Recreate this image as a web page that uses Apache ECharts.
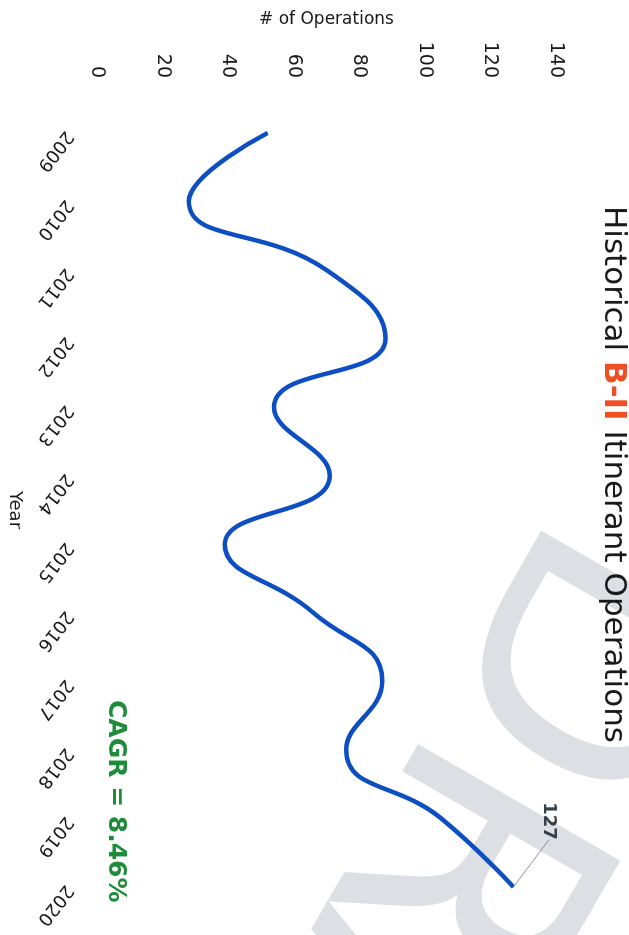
<!DOCTYPE html>
<html>
<head>
<meta charset="utf-8">
<script src="https://cdn.jsdelivr.net/npm/echarts@6/dist/echarts.min.js"></script>
<style>
  html, body { margin: 0; padding: 0; background: #fff; overflow: hidden; }
  body { width: 629px; height: 935px; position: relative; }
  /* chart is drawn landscape, then turned a quarter clockwise like the scan */
  #chart {
    position: absolute; left: 0; top: 0;
    width: 935px; height: 629px;
    transform-origin: 0 0;
    transform: translate(629px, 0) rotate(90deg);
  }
</style>
</head>
<body>
<div id="chart"></div>
<script>
const years = ['2009', '2010', '2011', '2012', '2013', '2014', '2015', '2016', '2017', '2018', '2019', '2020']
const operations = [52, 28, 70, 88, 54, 71, 39, 66, 87, 76, 105, 127]
const valueTicks = { min: 0, max: 140, interval: 20 }
const cagrText = 'CAGR = 8.46%'
const watermark = 'DRAFT'

const font = 'DejaVu Sans'
const chart = echarts.init(document.getElementById('chart'))

chart.setOption({
  animation: false,
  title: {
    text: '{a|Historical }{b|B-II}{a| Itinerant Operations}',
    left: 206,
    top: 0,
    padding: 0,
    textStyle: {
      fontWeight: 'normal',
      rich: {
        a: { fontFamily: font, fontSize: 31, fontWeight: 'normal', color: '#1a1a1a' },
        b: { fontFamily: font, fontSize: 31, fontWeight: 'bold', color: '#f04e23' }
      }
    }
  },
  graphic: [
    {
      type: 'text',
      z: -10,
      x: 545,
      y: 0,
      rotation: -Math.PI / 6,
      style: {
        text: watermark,
        fontFamily: font,
        fontWeight: 'normal',
        fontSize: 320,
        fill: '#dcdfe4',
        textVerticalAlign: 'middle'
      }
    },
    {
      type: 'text',
      x: 700,
      y: 513,
      style: {
        text: cagrText,
        fontFamily: font,
        fontWeight: 'bold',
        fontSize: 25,
        fill: '#1e8c3a',
        textVerticalAlign: 'middle'
      }
    }
  ],
  grid: {
    left: 133,
    right: 48,
    top: 73,
    bottom: 97
  },
  xAxis: {
    type: 'category',
    data: years,
    boundaryGap: false,
    name: 'Year',
    nameLocation: 'middle',
    nameGap: 73,
    nameTextStyle: { fontFamily: font, fontSize: 18, color: '#1a1a1a' },
    axisLine: { show: false },
    axisTick: { show: false },
    axisLabel: {
      rotate: -38,
      margin: 28,
      fontFamily: font,
      fontSize: 18,
      color: '#1a1a1a'
    }
  },
  yAxis: {
    type: 'value',
    min: valueTicks.min,
    max: valueTicks.max,
    interval: valueTicks.interval,
    name: '# of Operations',
    nameLocation: 'middle',
    nameGap: 105,
    nameTextStyle: { fontFamily: font, fontSize: 17, color: '#1a1a1a' },
    axisLine: { show: false },
    axisTick: { show: false },
    splitLine: { show: false },
    axisLabel: {
      margin: 55,
      fontFamily: font,
      fontSize: 19,
      color: '#1a1a1a'
    }
  },
  series: [{
    type: 'line',
    smooth: 0.5,
    showSymbol: true,
    symbol: 'circle',
    symbolSize: 1,
    itemStyle: { color: '#0d4fc2' },
    z: 3,
    lineStyle: { color: '#0d4fc2', width: 4.5 },
    data: operations.map((v, i) => i === operations.length - 1 ? {
      value: v,
      label: {
        show: true,
        position: 'top',
        fontFamily: font,
        fontWeight: 'bold',
        fontSize: 18,
        color: '#34404c'
      },
      labelLine: { show: true, lineStyle: { color: '#8a9099', width: 1 } }
    } : v),
    labelLayout: { dx: -66, dy: -21 }
  }]
})
</script>
</body>
</html>
